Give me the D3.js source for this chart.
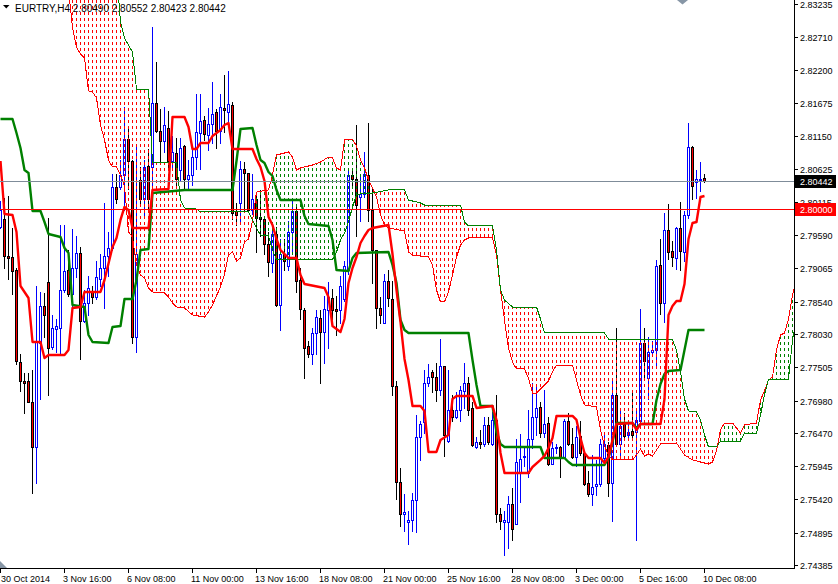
<!DOCTYPE html>
<html><head><meta charset="utf-8">
<script src="https://cdn.jsdelivr.net/npm/d3@7"></script>
<style>html,body{margin:0;padding:0;background:#fff;overflow:hidden}svg{display:block;font-family:"Liberation Sans",Arial,sans-serif}</style>
</head><body><svg id="c" width="838" height="584"></svg>
<script>
const symbol = "EURTRY,H4";
// [open, high, low, close] per H4 bar, bar 0 = 30 Oct 2014 00:00
const candles = [
[2.79723,2.80123,2.79694,2.79980],[2.79837,2.80181,2.79065,2.79265],[2.79265,2.80209,2.78894,2.79225],[2.79237,2.79694,2.78665,2.79019],
[2.79037,2.79065,2.77549,2.77607],[2.77589,2.77721,2.77132,2.77292],[2.77292,2.77406,2.76777,2.77258],[2.77281,2.77406,2.76949,2.76960],
[2.76960,2.77464,2.75519,2.76251],[2.76251,2.78779,2.75679,2.77921],[2.77893,2.78693,2.77006,2.78476],[2.78476,2.78676,2.77978,2.78322],
[2.78848,2.79866,2.77063,2.77807],[2.77818,2.78322,2.77795,2.78121],[2.78104,2.78264,2.77750,2.78150],[2.78121,2.79752,2.77704,2.78722],
[2.78722,2.79752,2.78693,2.79019],[2.79037,2.79351,2.78636,2.78654],[2.78654,2.79683,2.78465,2.79077],[2.79077,2.79580,2.78922,2.79311],
[2.79311,2.79408,2.77635,2.78236],[2.78236,2.78722,2.78219,2.78522],[2.78522,2.78951,2.78322,2.78751],[2.78693,2.78779,2.78522,2.78608],
[2.78619,2.79180,2.78579,2.78922],[2.78894,2.79294,2.78779,2.79065],[2.79065,2.80095,2.78436,2.79265],[2.79265,2.79637,2.78951,2.79391],
[2.79391,2.80552,2.79351,2.80352],[2.80352,2.80552,2.80095,2.80152],[2.80352,2.80781,2.80324,2.80541],[2.80541,2.81611,2.79980,2.81113],
[2.81113,2.81267,2.80324,2.80753],[2.80753,2.80781,2.77893,2.77978],[2.77978,2.81010,2.77750,2.79294],[2.80455,2.80667,2.80095,2.80163],
[2.80163,2.80781,2.79866,2.80667],[2.80678,2.80953,2.79980,2.80152],[2.80667,2.82869,2.80381,2.81668],[2.81668,2.82326,2.81210,2.81227],
[2.81239,2.81582,2.80724,2.81079],[2.81067,2.81611,2.80896,2.81325],[2.81285,2.81553,2.80621,2.80753],[2.80753,2.81153,2.80610,2.80896],
[2.80884,2.81124,2.80381,2.80467],[2.80621,2.81124,2.80438,2.80960],[2.80993,2.81010,2.80295,2.80467],[2.80467,2.80781,2.80335,2.80535],
[2.80535,2.80953,2.80381,2.80827],[2.80827,2.81811,2.80638,2.81210],[2.81193,2.81811,2.80638,2.81382],[2.81399,2.81468,2.81096,2.81182],
[2.81170,2.81599,2.80924,2.81336],[2.81336,2.82011,2.81039,2.81496],[2.81525,2.81582,2.80960,2.81239],[2.81239,2.81822,2.81039,2.81611],
[2.81593,2.82114,2.81210,2.81565],[2.81536,2.82177,2.81353,2.81651],[2.81639,2.81696,2.79837,2.79935],[2.79963,2.80095,2.79752,2.79912],
[2.80095,2.80753,2.79780,2.80638],[2.80627,2.80736,2.79980,2.80570],[2.80564,2.80564,2.79980,2.79992],[2.79992,2.80552,2.79924,2.80152],
[2.80163,2.80209,2.79323,2.79866],[2.79878,2.80295,2.79580,2.79837],[2.79837,2.79866,2.79294,2.79454],[2.79454,2.79637,2.78951,2.79168],
[2.79151,2.79752,2.79008,2.79609],[2.79609,2.79723,2.78465,2.78493],[2.78493,2.79523,2.78093,2.79294],[2.79294,2.79523,2.79037,2.79180],
[2.79094,2.79809,2.79037,2.79637],[2.79637,2.80123,2.79294,2.79969],[2.79969,2.80066,2.78693,2.78865],[2.78882,2.79065,2.78264,2.78420],
[2.78407,2.78436,2.77338,2.77807],[2.77836,2.77921,2.77664,2.77721],[2.77721,2.78121,2.77549,2.78046],[2.78046,2.78407,2.77721,2.78293],
[2.78287,2.78407,2.77264,2.78060],[2.78060,2.78636,2.77578,2.78420],[2.78406,2.78848,2.77807,2.78608],[2.78596,2.78733,2.78264,2.78406],
[2.78420,2.78636,2.78007,2.78397],[2.78406,2.78951,2.78207,2.78791],[2.78579,2.79180,2.78550,2.79105],[2.79037,2.80610,2.78979,2.80541],
[2.80535,2.80638,2.80381,2.80467],[2.80467,2.81325,2.79580,2.80066],[2.80196,2.80552,2.79809,2.80236],[2.80236,2.80896,2.80196,2.80552],
[2.80541,2.81353,2.79809,2.79992],[2.79992,2.80312,2.78836,2.79351],[2.79351,2.79351,2.78121,2.78436],[2.78436,2.78608,2.78207,2.78322],
[2.78207,2.78979,2.78196,2.78865],[2.78865,2.79037,2.78465,2.78596],[2.78579,2.78865,2.77063,2.77209],[2.77209,2.77292,2.75433,2.75690],
[2.75690,2.75908,2.75004,2.75188],[2.75188,2.75508,2.74928,2.75224],[2.75061,2.75232,2.74718,2.75101],[2.75090,2.75519,2.74928,2.75404],
[2.75404,2.76748,2.74901,2.76405],[2.76405,2.76663,2.76034,2.76606],[2.76634,2.77464,2.76462,2.77264],[2.77264,2.77549,2.77206,2.77350],
[2.77435,2.77464,2.77120,2.77350],[2.77350,2.77578,2.76977,2.77149],[2.77149,2.77950,2.77063,2.77520],[2.77520,2.77520,2.76112,2.76434],
[2.76348,2.77464,2.76320,2.76834],[2.76834,2.77063,2.76663,2.76720],[2.76720,2.77120,2.76709,2.76834],[2.76834,2.77206,2.76663,2.77149],
[2.77132,2.77578,2.76863,2.77252],[2.77252,2.77350,2.76748,2.76834],[2.76863,2.76949,2.76262,2.76274],[2.76251,2.76405,2.76234,2.76331],
[2.76331,2.76520,2.76234,2.76291],[2.76291,2.76720,2.76262,2.76595],[2.76595,2.76720,2.76291,2.76320],[2.76291,2.76806,2.76274,2.76674],
[2.76674,2.77074,2.75061,2.75188],[2.75188,2.75290,2.74958,2.75072],[2.75061,2.75232,2.74546,2.75090],[2.75061,2.75476,2.74661,2.75347],
[2.75347,2.75592,2.74787,2.74947],[2.75033,2.76377,2.75033,2.76005],[2.75833,2.76445,2.75376,2.76060],[2.76091,2.76234,2.75948,2.76112],
[2.75833,2.76834,2.75776,2.76372],[2.76372,2.77264,2.76234,2.76720],[2.76720,2.77235,2.76434,2.76863],[2.76880,2.76949,2.76405,2.76462],
[2.76462,2.77149,2.76405,2.76606],[2.76618,2.76720,2.75968,2.75980],[2.75980,2.76320,2.75974,2.76234],[2.76229,2.76300,2.76148,2.76251],
[2.76251,2.76262,2.75776,2.76086],[2.76086,2.76692,2.76075,2.76663],[2.76663,2.76789,2.76274,2.76291],[2.76300,2.76548,2.76075,2.76086],
[2.76086,2.76577,2.75948,2.76405],[2.76423,2.76651,2.76120,2.76148],[2.76148,2.76205,2.75645,2.75662],[2.75679,2.75862,2.75476,2.75508],
[2.75508,2.76120,2.75334,2.75622],[2.75633,2.76034,2.75490,2.75662],[2.75662,2.76377,2.75633,2.76300],[2.76075,2.76434,2.76034,2.76291],
[2.76274,2.76320,2.75473,2.75679],[2.75679,2.77324,2.75072,2.77063],[2.77063,2.78121,2.76262,2.76291],[2.76291,2.76863,2.76091,2.76577],
[2.76606,2.76777,2.76405,2.76423],[2.76434,2.76663,2.76377,2.76480],[2.76492,2.77092,2.76377,2.76434],[2.76480,2.76834,2.74775,2.76674],
[2.76663,2.78419,2.76634,2.77893],[2.77893,2.78121,2.77350,2.77607],[2.77338,2.77978,2.77006,2.77740],[2.77740,2.77921,2.77721,2.77780],
[2.77780,2.79191,2.77520,2.79105],[2.79122,2.79523,2.78350,2.78522],[2.78522,2.79935,2.78219,2.79677],[2.79677,2.80078,2.79208,2.79323],
[2.79340,2.79494,2.79094,2.79237],[2.79225,2.79717,2.79054,2.79706],[2.79706,2.80106,2.79037,2.79340],[2.79323,2.79963,2.79180,2.79912],
[2.79912,2.81364,2.79866,2.80982],[2.80982,2.80993,2.80152,2.80370],[2.80427,2.80610,2.80181,2.80467],[2.80455,2.80740,2.80282,2.80478],
[2.80490,2.80552,2.80423,2.80442]
];
// Ichimoku lines as [bar, price] vertices
const tenkan = [[0,2.80758],[1,2.79922],[3,2.79906],[4,2.79638],[5,2.78786],[7,2.78597],[8,2.77903],[10,2.77903],[11,2.77651],[12,2.77698],[16,2.77698],[17,2.77777],[18,2.78439],[20,2.78455],[21,2.78692],[25,2.78692],[26,2.78881],[28,2.79402],[29,2.79544],[30,2.79828],[31,2.80033],[32,2.79985],[33,2.79701],[37,2.79701],[38,2.80301],[42,2.80317],[43,2.81452],[46,2.81452],[47,2.81295],[48,2.80948],[49,2.80948],[50,2.81042],[52,2.81042],[53,2.81153],[55,2.81247],[56,2.81326],[57,2.81358],[58,2.80948],[63,2.80948],[64,2.80790],[65,2.80664],[66,2.80443],[67,2.79875],[68,2.79749],[69,2.79528],[70,2.79354],[72,2.79228],[74,2.79228],[75,2.78960],[76,2.78818],[81,2.78755],[82,2.78613],[83,2.78155],[85,2.78061],[86,2.78266],[87,2.78834],[88,2.79070],[89,2.79244],[90,2.79465],[91,2.79575],[92,2.79670],[93,2.79701],[97,2.79749],[98,2.79291],[99,2.78723],[100,2.78218],[101,2.77635],[102,2.77304],[103,2.76893],[105,2.76893],[106,2.76815],[107,2.76168],[109,2.76168],[110,2.76357],[112,2.76436],[113,2.77004],[114,2.77051],[118,2.77051],[119,2.76862],[123,2.76893],[124,2.76673],[125,2.76152],[126,2.75836],[132,2.75836],[133,2.75931],[135,2.76042],[136,2.76105],[137,2.76231],[138,2.76389],[139,2.76736],[143,2.76736],[144,2.76673],[145,2.76389],[146,2.76152],[147,2.76073],[150,2.76073],[151,2.75994],[152,2.76089],[153,2.76357],[154,2.76609],[158,2.76625],[159,2.76515],[160,2.76609],[165,2.76609],[166,2.77004],[167,2.78329],[168,2.78471],[169,2.78550],[170,2.78550],[171,2.78818],[172,2.79528],[173,2.79780],[174,2.79796],[175,2.80190],[176,2.80206]];
const kijun = [[0,2.81421],[3,2.81421],[4,2.81200],[5,2.80963],[6,2.80616],[7,2.80569],[8,2.79970],[10,2.79970],[11,2.79796],[12,2.79607],[15,2.79559],[16,2.79386],[17,2.79307],[18,2.78487],[21,2.78455],[22,2.78013],[23,2.77903],[27,2.77887],[28,2.78140],[30,2.78155],[31,2.78581],[33,2.78581],[34,2.78881],[35,2.79354],[37,2.79370],[38,2.80253],[46,2.80301],[58,2.80301],[59,2.80758],[60,2.81263],[63,2.81279],[64,2.81011],[65,2.80774],[66,2.80727],[67,2.80585],[68,2.80522],[69,2.80301],[70,2.80143],[75,2.80143],[76,2.79891],[77,2.79764],[82,2.79733],[83,2.79512],[84,2.79039],[87,2.79023],[88,2.79228],[89,2.79307],[97,2.79323],[98,2.79118],[99,2.78834],[100,2.78250],[101,2.78092],[102,2.78045],[117,2.78045],[118,2.77619],[119,2.77225],[120,2.76893],[123,2.76893],[124,2.76483],[125,2.76294],[126,2.76247],[135,2.76247],[136,2.76073],[141,2.76073],[142,2.76010],[143,2.75963],[151,2.75963],[152,2.76073],[153,2.76325],[154,2.76625],[158,2.76625],[159,2.76546],[160,2.76609],[163,2.76609],[164,2.76988],[165,2.77240],[166,2.77398],[167,2.77446],[170,2.77461],[171,2.77777],[172,2.78092],[176,2.78092]];
const spanA = [[17,2.83456],[18,2.82872],[19,2.82557],[20,2.82446],[21,2.82383],[22,2.81863],[23,2.81847],[24,2.81752],[25,2.81326],[26,2.81090],[27,2.80774],[28,2.80664],[29,2.80664],[30,2.80537],[31,2.80364],[32,2.79638],[33,2.79559],[34,2.79118],[35,2.78960],[36,2.78913],[37,2.78755],[38,2.78692],[41,2.78676],[42,2.78613],[43,2.78518],[44,2.78455],[46,2.78439],[48,2.78329],[51,2.78297],[52,2.78376],[53,2.78487],[55,2.78771],[56,2.78960],[57,2.79275],[58,2.79323],[59,2.79181],[60,2.79228],[61,2.79480],[62,2.79528],[63,2.79812],[64,2.80269],[67,2.80301],[68,2.80537],[69,2.80853],[72,2.80900],[73,2.80821],[74,2.80616],[75,2.80648],[78,2.80695],[80,2.80742],[82,2.80821],[83,2.80806],[84,2.80648],[85,2.80616],[86,2.81090],[88,2.81105],[89,2.80995],[90,2.80774],[91,2.80648],[92,2.80459],[93,2.80332],[94,2.80190],[95,2.79906],[96,2.79749],[97,2.79701],[101,2.79654],[102,2.79323],[103,2.79275],[107,2.79244],[108,2.79118],[109,2.78723],[110,2.78534],[111,2.78534],[112,2.78692],[113,2.78960],[114,2.79244],[115,2.79433],[116,2.79512],[117,2.79544],[123,2.79544],[124,2.79275],[125,2.78723],[126,2.78250],[127,2.77808],[128,2.77587],[129,2.77477],[131,2.77477],[132,2.77335],[133,2.77098],[134,2.77098],[135,2.77161],[136,2.77225],[137,2.77288],[138,2.77430],[139,2.77540],[143,2.77540],[144,2.77304],[145,2.77067],[146,2.76909],[149,2.76878],[150,2.76515],[151,2.76262],[152,2.76120],[153,2.76042],[158,2.76042],[159,2.76120],[160,2.76215],[161,2.76105],[162,2.76136],[163,2.76105],[165,2.76294],[169,2.76310],[170,2.76215],[171,2.76120],[173,2.76042],[175,2.76010],[177,2.75978],[178,2.76010],[179,2.76184],[180,2.76515],[181,2.76625],[183,2.76625],[184,2.76546],[185,2.76467],[186,2.76594],[189,2.76625],[190,2.76988],[191,2.77130],[192,2.77304],[193,2.77351],[194,2.77777],[195,2.78013],[196,2.78045],[197,2.78266],[198,2.78644],[199,2.78881]];
const spanB = [[17,2.83771],[29,2.83771],[30,2.82951],[31,2.82699],[32,2.82588],[33,2.82478],[34,2.81894],[37,2.81894],[38,2.80727],[44,2.80727],[45,2.80143],[46,2.80017],[49,2.80001],[50,2.79954],[62,2.79954],[63,2.79828],[64,2.79701],[65,2.79591],[67,2.79575],[68,2.79354],[69,2.79197],[83,2.79197],[84,2.79323],[85,2.79512],[86,2.79622],[87,2.79796],[88,2.80033],[89,2.80222],[90,2.80238],[93,2.80253],[97,2.80301],[101,2.80301],[102,2.80143],[105,2.80096],[106,2.80064],[115,2.80064],[116,2.79796],[117,2.79733],[123,2.79733],[124,2.79354],[125,2.78723],[126,2.78566],[128,2.78455],[134,2.78455],[135,2.78266],[136,2.78045],[151,2.78045],[152,2.77950],[153,2.77935],[168,2.77935],[169,2.77777],[170,2.77430],[171,2.77004],[172,2.76815],[174,2.76799],[175,2.76673],[176,2.76436],[177,2.76247],[179,2.76247],[180,2.76341],[185,2.76341],[186,2.76467],[189,2.76467],[190,2.76751],[191,2.77067],[192,2.77319],[197,2.77319],[198,2.77935],[199,2.78250]];
const priceTicks = [2.83235,2.82710,2.82200,2.81675,2.81150,2.80625,2.80115,2.79590,2.79065,2.78540,2.78030,2.77505,2.76980,2.76470,2.75945,2.75420,2.74895,2.74385];
const timeTickBars = [0,16,32,48,64,80,96,112,128,144,160,176];
const timeTickLabels = ["30 Oct 2014","3 Nov 16:00","6 Nov 08:00","11 Nov 00:00","13 Nov 16:00","18 Nov 08:00","21 Nov 00:00","25 Nov 16:00","28 Nov 08:00","3 Dec 00:00","5 Dec 16:00","10 Dec 08:00"];
const levelLine = 2.80000;

const plotR = 794, plotB = 568;
const x = d3.scaleLinear().domain([0, 1]).range([0.5, 4.5]);
const y = d3.scaleLinear().domain([2.83235, 2.74385]).range([4, 565]);
const svg = d3.select("#c");
const defs = svg.append("defs");
defs.append("clipPath").attr("id", "plot").append("rect").attr("x", 0).attr("y", 0).attr("width", plotR).attr("height", plotB);
function hatch(id, color) {
  const p = defs.append("pattern").attr("id", id).attr("patternUnits", "userSpaceOnUse")
    .attr("x", 0).attr("y", 0).attr("width", 4).attr("height", 6);
  p.append("rect").attr("x", 0).attr("y", 0).attr("width", 1).attr("height", 3).attr("fill", color);
}
hatch("hRed", "#ff0000");
hatch("hGreen", "#008000");

const aPts = spanA.map(d => [x(d[0]), y(d[1])]);
const bPts = spanB.map(d => [x(d[0]), y(d[1])]);
const poly = pts => "M" + pts.map(p => p[0].toFixed(2) + "," + p[1].toFixed(2)).join("L") + "Z";
defs.append("clipPath").attr("id", "aboveA").append("path")
  .attr("d", poly(aPts.concat([[aPts[aPts.length - 1][0], -200], [aPts[0][0], -200]])));
defs.append("clipPath").attr("id", "belowA").append("path")
  .attr("d", poly(aPts.concat([[aPts[aPts.length - 1][0], 1200], [aPts[0][0], 1200]])));
const band = poly(aPts.concat(bPts.slice().reverse()));

const g = svg.append("g").attr("clip-path", "url(#plot)");

// candles
const cg = g.append("g").attr("shape-rendering", "crispEdges");
candles.forEach((c, i) => {
  const [o, h, l, cl] = c;
  const bull = cl > o;
  const px = Math.round(x(i) - 0.5);
  const yh = Math.round(y(h)), yl = Math.round(y(l));
  const top = Math.round(y(Math.max(o, cl))), bot = Math.round(y(Math.min(o, cl)));
  const edge = bull ? "#0000ff" : "#000000";
  cg.append("rect").attr("x", px).attr("y", yh).attr("width", 1).attr("height", Math.max(1, yl - yh + 1)).attr("fill", edge);
  cg.append("rect").attr("x", px - 1).attr("y", top).attr("width", 3).attr("height", Math.max(1, bot - top + 1)).attr("fill", edge);
  if (bot - top > 1) {
    cg.append("rect").attr("x", px).attr("y", top + 1).attr("width", 1).attr("height", bot - top - 1)
      .attr("fill", bull ? "#ffffff" : "#ff0000");
  }
});

// cloud hatch
g.append("g").attr("clip-path", "url(#aboveA)").append("path").attr("d", band).attr("fill", "url(#hRed)");
g.append("g").attr("clip-path", "url(#belowA)").append("path").attr("d", band).attr("fill", "url(#hGreen)");

const line = d3.line().x(d => x(d[0])).y(d => y(d[1]));
g.append("path").attr("d", line(spanA)).attr("fill", "none").attr("stroke", "#ff0000").attr("stroke-width", 1).attr("shape-rendering", "crispEdges");
g.append("path").attr("d", line(spanB)).attr("fill", "none").attr("stroke", "#008000").attr("stroke-width", 1).attr("shape-rendering", "crispEdges");
g.append("path").attr("d", line(kijun)).attr("fill", "none").attr("stroke", "#008000").attr("stroke-width", 2.4).attr("stroke-linejoin", "round");
g.append("path").attr("d", line(tenkan)).attr("fill", "none").attr("stroke", "#ff0000").attr("stroke-width", 2.4).attr("stroke-linejoin", "round");

// horizontal lines
const last = candles[candles.length - 1];
const yBid = Math.round(y(last[3])) + 0.5, yLev = Math.round(y(levelLine)) + 0.5;
svg.append("line").attr("x1", 0).attr("x2", plotR).attr("y1", yBid).attr("y2", yBid).attr("stroke", "#7f8c99").attr("stroke-width", 1);
svg.append("line").attr("x1", 0).attr("x2", plotR).attr("y1", yLev).attr("y2", yLev).attr("stroke", "#ff0000").attr("stroke-width", 1);

// axes
const ax = svg.append("g").attr("shape-rendering", "crispEdges");
ax.append("line").attr("x1", plotR + 0.5).attr("x2", plotR + 0.5).attr("y1", 0).attr("y2", plotB + 1).attr("stroke", "#000");
ax.append("line").attr("x1", 0).attr("x2", plotR + 1).attr("y1", plotB + 0.5).attr("y2", plotB + 0.5).attr("stroke", "#000");
priceTicks.forEach(p => {
  const yy = Math.round(y(p)) + 0.5;
  ax.append("line").attr("x1", plotR + 1).attr("x2", plotR + 4).attr("y1", yy).attr("y2", yy).attr("stroke", "#000");
  svg.append("text").attr("x", 800).attr("y", yy + 3.5).attr("font-size", 9).attr("fill", "#000").text(p.toFixed(5));
});
timeTickBars.forEach((b, k) => {
  const xx = Math.round(x(b) - 0.5) + 0.5;
  ax.append("line").attr("x1", xx).attr("x2", xx).attr("y1", plotB + 1).attr("y2", plotB + 5).attr("stroke", "#000");
  svg.append("text").attr("x", Math.max(1, xx - 1.5)).attr("y", 582).attr("font-size", 9).attr("fill", "#000").text(timeTickLabels[k]);
});

// price labels
function tag(price, bg) {
  const yy = Math.round(y(price));
  svg.append("rect").attr("x", plotR + 1).attr("y", yy - 6).attr("width", 41).attr("height", 13).attr("fill", bg).attr("shape-rendering", "crispEdges");
  svg.append("text").attr("x", 800).attr("y", yy + 4).attr("font-size", 9).attr("fill", "#fff").text(price.toFixed(5));
}
tag(last[3], "#000000");
tag(levelLine, "#ff0000");

// title
svg.append("path").attr("d", "M3,5L9.5,5L6.25,8.5Z").attr("fill", "#000");
svg.append("text").attr("x", 15).attr("y", 12).attr("font-size", 10).attr("fill", "#000")
  .text(symbol + " " + last.map(v => v.toFixed(5)).join(" "));
// chart markers
svg.append("path").attr("d", "M677,0L688,0L682.5,4.5Z").attr("fill", "#8796a6");
svg.append("path").attr("d", "M0,561L7,568L0,568Z").attr("fill", "#8796a6");
</script></body></html>
